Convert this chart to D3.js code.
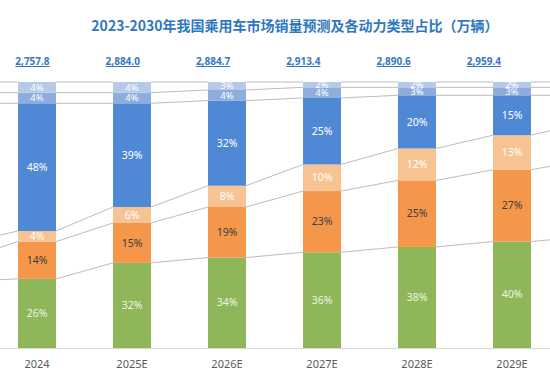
<!DOCTYPE html>
<html>
<head>
<meta charset="utf-8">
<script src="https://cdn.jsdelivr.net/npm/d3@7/dist/d3.min.js"></script>
<style>
  body { margin: 0; background: #fff; }
  svg { display: block; font-family: "Noto Sans", "Noto Sans CJK SC", sans-serif; }
</style>
</head>
<body>
<script>
// categories (2023 and 2030E sit just outside the visible area)
const years = ["2023", "2024", "2025E", "2026E", "2027E", "2028E", "2029E", "2030E"];
const totals = [2606.3, 2757.8, 2884.0, 2884.7, 2913.4, 2890.6, 2959.4, null];

// shares, bottom to top
const seriesNames = ["纯电动", "插电混动", "增程式", "燃油车", "混动", "其他"];
const bev   = [25, 26, 32, 34, 36, 38, 40, 42];
const phev  = [8, 14, 15, 19, 23, 25, 27, 29];
const erev  = [6, 4, 6, 8, 10, 12, 13, 14];
const ice   = [53, 48, 39, 32, 25, 20, 15, 10];
const hev   = [4, 4, 4, 4, 4, 3, 3, 3];
const other = [4, 4, 4, 3, 2, 2, 2, 2];

const colors = ["#8fb75a", "#f5974b", "#f8c393", "#4f89d6", "#8eaddc", "#b5c9e8"];
const labelColors = ["#eef4e4", "#3b3b3b", "#ffffff", "#ffffff", "#ffffff", "#ffffff"];

const W = 550, H = 378;
const svg = d3.select("body").append("svg").attr("width", W).attr("height", H);

const rows = years.map((y, i) => {
    const r = { year: y };
    [bev, phev, erev, ice, hev, other].forEach((s, k) => r[seriesNames[k]] = s[i] / 100);
    return r;
});
const stacked = d3.stack().keys(seriesNames)(rows);

const x = d3.scaleBand().domain(years).range([-105.5, 654.5])
    .paddingInner(0.6).paddingOuter(0.3);
const y = d3.scaleLinear().domain([0, 1]).range([348, 82]);
const xLabel = d3.scalePoint().domain(years).range([-57.8, 574.1]);

// only label the bars that are inside the picture
const visible = d => {
    const c = x(d) + x.bandwidth() / 2;
    return c > 0 && c < W;
};

// series lines between bars
const lines = svg.append("g").attr("stroke", "#ababab").attr("stroke-width", 0.8);
stacked.forEach(layer => {
    for (let i = 0; i < years.length - 1; i++) {
        const a = layer[i], b = layer[i + 1];
        lines.append("line")
            .attr("x1", x(a.data.year) + x.bandwidth())
            .attr("y1", y(a[1]))
            .attr("x2", x(b.data.year))
            .attr("y2", y(b[1]));
    }
});

// baseline
svg.append("line")
    .attr("x1", 0).attr("x2", W)
    .attr("y1", y(0) + 0.5).attr("y2", y(0) + 0.5)
    .attr("stroke", "#d9d9d9");

// bars
const layers = svg.selectAll(".layer")
    .data(stacked)
    .enter().append("g")
    .attr("class", "layer")
    .attr("fill", (d, k) => colors[k]);

layers.selectAll("rect")
    .data(d => d)
    .enter().append("rect")
    .attr("x", d => x(d.data.year))
    .attr("width", x.bandwidth())
    .attr("y", d => y(d[1]))
    .attr("height", d => y(d[0]) - y(d[1]));

// percent labels
stacked.forEach((layer, k) => {
    svg.append("g").selectAll("text")
        .data(layer.filter(d => visible(d.data.year)))
        .enter().append("text")
        .attr("x", d => x(d.data.year) + x.bandwidth() / 2)
        .attr("y", d => (y(d[0]) + y(d[1])) / 2)
        .attr("dy", "0.35em")
        .attr("text-anchor", "middle")
        .style("font-size", k >= 4 ? "9.5px" : "10.5px")
        .style("fill", labelColors[k])
        .text(d => Math.round((d[1] - d[0]) * 100) + "%");
});

// x axis labels
svg.append("g").selectAll("text")
    .data(years.filter(visible))
    .enter().append("text")
    .attr("x", d => x(d) + x.bandwidth() / 2)
    .attr("y", 368)
    .attr("text-anchor", "middle")
    .style("font-size", "11px")
    .style("fill", "#595959")
    .text(d => d);

// totals
svg.append("g").selectAll("text")
    .data(years.filter((d, i) => totals[i] != null && visible(d)))
    .enter().append("text")
    .attr("x", d => xLabel(d))
    .attr("y", 65)
    .attr("text-anchor", "middle")
    .style("font-size", "10px")
    .style("font-weight", "bold")
    .style("fill", "#3a78bd")
    .style("text-decoration", "underline")
    .text(d => d3.format(",.1f")(totals[years.indexOf(d)]));

// title
svg.append("text")
    .attr("x", 295)
    .attr("y", 31)
    .attr("text-anchor", "middle")
    .style("font-family", "'Noto Sans CJK SC', sans-serif")
    .style("font-size", "14px")
    .style("font-weight", "bold")
    .style("fill", "#2f77c0")
    .text("2023-2030年我国乘用车市场销量预测及各动力类型占比（万辆）");
</script>
</body>
</html>
